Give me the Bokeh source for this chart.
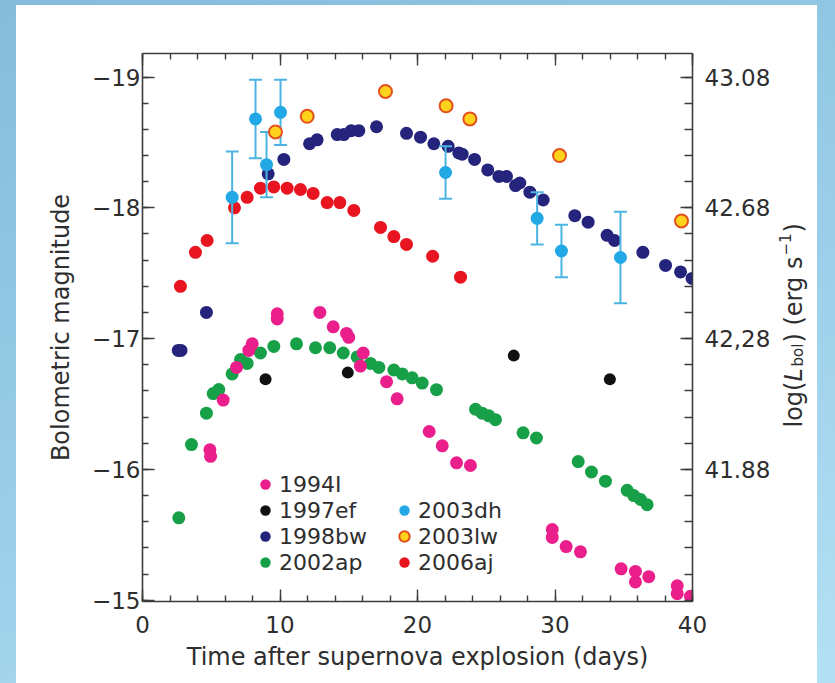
import numpy as np
from bokeh.plotting import figure
from bokeh.layouts import row
from bokeh.models import LinearAxis, FixedTicker, Range1d, Legend, LegendItem, Label
from bokeh.embed import file_html
from bokeh.resources import INLINE

# ---------------- data ----------------
t_1994I = [4.9, 4.95, 5.87, 6.84, 7.73, 7.98, 9.8, 9.8, 12.9, 13.87, 14.84, 15.0, 15.85,
           16.05, 17.75, 18.52, 20.85, 21.8, 22.84, 23.85, 29.8, 29.8, 30.81, 31.85, 34.81,
           35.85, 35.85, 36.82, 38.89, 38.89, 39.85]
m_1994I = [-16.15, -16.10, -16.53, -16.78, -16.91, -16.96, -17.15, -17.19, -17.20, -17.09,
           -17.04, -17.01, -16.79, -16.89, -16.67, -16.54, -16.29, -16.18, -16.05, -16.03,
           -15.54, -15.48, -15.41, -15.37, -15.24, -15.22, -15.14, -15.18, -15.11, -15.05, -15.03]

t_1997ef = [8.95, 14.93, 27.0, 33.99]
m_1997ef = [-16.69, -16.74, -16.87, -16.69]

t_1998bw = [2.6, 2.8, 4.65, 9.14, 10.28, 12.15, 12.7, 14.16, 14.64, 15.18, 15.73, 17.02, 19.2,
            20.22, 21.19, 22.23, 23.0, 23.25, 24.15, 25.11, 25.92, 26.47, 27.13, 27.44, 28.17,
            29.14, 31.44, 32.41, 33.79, 34.33, 36.39, 38.04, 39.13, 39.97]
m_1998bw = [-16.91, -16.91, -17.20, -18.26, -18.37, -18.49, -18.52, -18.56, -18.56, -18.59,
            -18.59, -18.62, -18.57, -18.54, -18.49, -18.47, -18.42, -18.41, -18.37, -18.29,
            -18.24, -18.24, -18.17, -18.19, -18.12, -18.06, -17.94, -17.89, -17.79, -17.75,
            -17.66, -17.56, -17.51, -17.46]

t_2002ap = [2.64, 3.56, 4.65, 5.14, 5.55, 6.52, 7.13, 7.61, 8.58, 9.55, 11.2, 12.58, 13.62,
            14.6, 15.61, 16.58, 17.19, 18.28, 18.89, 19.61, 20.34, 21.38, 24.22, 24.7, 25.19,
            25.67, 27.68, 28.65, 31.69, 32.65, 33.67, 35.25, 35.73, 36.22, 36.7]
m_2002ap = [-15.63, -16.19, -16.43, -16.58, -16.61, -16.73, -16.84, -16.81, -16.89, -16.94,
            -16.96, -16.93, -16.93, -16.89, -16.86, -16.81, -16.78, -16.76, -16.73, -16.70,
            -16.66, -16.61, -16.46, -16.43, -16.41, -16.38, -16.28, -16.24, -16.06, -15.98,
            -15.91, -15.84, -15.80, -15.77, -15.73]

t_2003dh = [6.52, 8.22, 9.02, 10.04, 22.04, 28.70, 30.47, 34.76]
m_2003dh = [-18.08, -18.68, -18.33, -18.73, -18.27, -17.92, -17.67, -17.62]
e_2003dh = [0.35, 0.30, 0.25, 0.25, 0.20, 0.20, 0.20, 0.35]

t_2003lw = [9.67, 11.98, 17.67, 22.08, 23.81, 30.33, 39.2]
m_2003lw = [-18.58, -18.70, -18.89, -18.78, -18.68, -18.40, -17.90]

t_2006aj = [2.76, 3.85, 4.70, 6.69, 7.61, 8.58, 9.55, 10.52, 11.49, 12.41, 13.43, 14.35,
            15.37, 17.31, 18.28, 19.2, 21.1, 23.13]
m_2006aj = [-17.40, -17.66, -17.75, -18.00, -18.08, -18.15, -18.16, -18.15, -18.14, -18.11,
            -18.04, -18.04, -17.98, -17.85, -17.78, -17.72, -17.63, -17.47]

x_ticks = [0, 10, 20, 30, 40]
mag_ticks = [-19, -18, -17, -16, -15]
mag_labels = ["\u221219", "\u221218", "\u221217", "\u221216", "\u221215"]
lum_ticks = [-19, -18, -17, -16]
lum_labels = ["43.08", "42.68", "42,28", "41.88"]

# ---------------- style ----------------
FONT = "DejaVu Sans"
TXT = "#2e2e2e"
AX = "#3c3c3c"
C94, C97, C98, C02 = "#ea1f8c", "#111111", "#25247c", "#17a048"
CDH, CDH_ERR, CLW, CLW_EDGE, CAJ = "#22a8e4", "#4cb4e2", "#ffd21c", "#e2501e", "#e8141f"
X0, X1 = 0, 40
Y_BOT, Y_TOP = -14.99, -19.18
H = 678
B_TOP, B_BOT = 48, 82

p = figure(width=758, height=H, x_range=Range1d(X0, X1), y_range=Range1d(Y_BOT, Y_TOP),
           output_backend="svg", toolbar_location=None,
           min_border_left=126, min_border_right=82, min_border_top=B_TOP,
           min_border_bottom=B_BOT,
           background_fill_color="white", border_fill_color="white")
p.grid.visible = False
p.outline_line_color = None

x_minor = list(np.arange(0, 41, 2))
y_minor = list(np.round(np.arange(-19.0, -14.99, 0.2), 2))


def style_axis(ax):
    ax.axis_line_color = AX
    ax.axis_line_width = 1.6
    ax.major_tick_line_color = AX
    ax.minor_tick_line_color = AX
    ax.major_tick_line_width = 1.4
    ax.minor_tick_line_width = 1.4
    ax.major_tick_in = 12
    ax.major_tick_out = 0
    ax.minor_tick_in = 6
    ax.minor_tick_out = 0
    ax.major_label_text_font = FONT
    ax.major_label_text_font_size = "23px"
    ax.major_label_text_color = TXT
    ax.axis_label_text_font = FONT
    ax.axis_label_text_font_size = "24px"
    ax.axis_label_text_font_style = "normal"
    ax.axis_label_text_color = TXT


xa = p.xaxis[0]
xa.ticker = FixedTicker(ticks=x_ticks, minor_ticks=x_minor)
style_axis(xa)
xa.axis_label = "Time after supernova explosion (days)"
xa.major_label_standoff = 14
xa.axis_label_standoff = 7

ya = p.yaxis[0]
ya.ticker = FixedTicker(ticks=mag_ticks, minor_ticks=y_minor)
ya.major_label_overrides = dict(zip(mag_ticks, mag_labels))
style_axis(ya)
ya.axis_label = "Bolometric magnitude"
ya.major_label_standoff = 2
ya.axis_label_standoff = 14

ra = LinearAxis(ticker=FixedTicker(ticks=lum_ticks, minor_ticks=y_minor),
                major_label_overrides=dict(zip(lum_ticks, lum_labels)))
style_axis(ra)
ra.minor_tick_in = 8
ra.major_label_standoff = 12
p.add_layout(ra, "right")

ta = LinearAxis(ticker=FixedTicker(ticks=x_ticks, minor_ticks=x_minor))
style_axis(ta)
ta.major_label_text_color = None
p.add_layout(ta, "above")

# ---------------- data marks ----------------
SZ = 13
r02 = p.scatter(t_2002ap, m_2002ap, size=SZ, fill_color=C02, line_color=None)
r94 = p.scatter(t_1994I, m_1994I, size=SZ, fill_color=C94, line_color=None)
r97 = p.scatter(t_1997ef, m_1997ef, size=SZ - 1, fill_color=C97, line_color=None)
r06 = p.scatter(t_2006aj, m_2006aj, size=SZ, fill_color=CAJ, line_color=None)
r98 = p.scatter(t_1998bw, m_1998bw, size=SZ, fill_color=C98, line_color=None)

lo = [m - e for m, e in zip(m_2003dh, e_2003dh)]
hi = [m + e for m, e in zip(m_2003dh, e_2003dh)]
p.segment(x0=t_2003dh, y0=lo, x1=t_2003dh, y1=hi, line_color=CDH_ERR, line_width=2)
p.scatter(t_2003dh, lo, marker="dash", size=13, line_color=CDH_ERR, line_width=2)
p.scatter(t_2003dh, hi, marker="dash", size=13, line_color=CDH_ERR, line_width=2)
rdh = p.scatter(t_2003dh, m_2003dh, size=SZ, fill_color=CDH, line_color=None)
rlw = p.scatter(t_2003lw, m_2003lw, size=SZ, fill_color=CLW, line_color=CLW_EDGE, line_width=2)

# ---------------- legends ----------------
leg_common = dict(orientation="vertical", glyph_width=26, glyph_height=26, label_height=26,
                  spacing=0, padding=0, margin=0, label_standoff=1,
                  border_line_color=None, background_fill_alpha=0,
                  label_text_font=FONT, label_text_font_size="22px", label_text_color=TXT)
leg1 = Legend(items=[LegendItem(label="1994I", renderers=[r94]),
                     LegendItem(label="1997ef", renderers=[r97]),
                     LegendItem(label="1998bw", renderers=[r98]),
                     LegendItem(label="2002ap", renderers=[r02])],
              location=(110, 26), **leg_common)
leg2 = Legend(items=[LegendItem(label="2003dh", renderers=[rdh]),
                     LegendItem(label="2003lw", renderers=[rlw]),
                     LegendItem(label="2006aj", renderers=[r06])],
              location=(249, 26), **leg_common)
p.add_layout(leg1)
p.add_layout(leg2)

# ---------------- right-hand axis title in a narrow companion panel ----------------
# In a row the companion's frame is aligned with the main frame, so its y range is
# chosen to make one data unit equal one canvas pixel.
W2 = 43
q = figure(width=W2, height=H, x_range=Range1d(0, W2), y_range=Range1d(H - B_BOT, B_TOP),
           output_backend="svg", toolbar_location=None, x_axis_type=None, y_axis_type=None,
           min_border=0, min_border_left=0, min_border_right=0, min_border_top=B_TOP,
           min_border_bottom=B_BOT, background_fill_color="white", border_fill_color="white")
q.grid.visible = False
q.outline_line_color = None

base_x = 19       # baseline of the rotated text (px in the panel)
start_y = 422     # where the title starts; it runs upwards
pieces = [("log(", "24px", "normal", 0, 46.0),
          ("L", "24px", "italic", 0, 15.0),
          ("bol", "15px", "normal", 4, 24.0),
          (") (erg s", "24px", "normal", 0, 87.0),
          ("\u22121", "15px", "normal", -9, 23.0),
          (")", "24px", "normal", 0, 9.4)]
pos = start_y
for txt, fs, style, shift, adv in pieces:
    q.add_layout(Label(x=base_x + shift, y=pos, text=txt, angle=np.pi / 2, angle_units="rad",
                       text_font=FONT, text_font_size=fs, text_font_style=style,
                       text_color=TXT, text_align="left", text_baseline="alphabetic"))
    pos -= adv

layout = row(p, q, spacing=0, styles={"background-color": "white"})

page_css = ("<style>html{background:linear-gradient(160deg,#84bcda 0%,#9bcfe9 55%,#b4e0f4 100%)"
            " !important;overflow:hidden;}"
            "body{background:transparent !important;padding:5px 0 0 16px !important;"
            "margin:0 !important;overflow:hidden;}</style>")
html = file_html(layout, INLINE, title="Bolometric light curves")
html = html.replace("</head>", page_css + "</head>", 1)
with open("out.html", "w") as f:
    f.write(html)
